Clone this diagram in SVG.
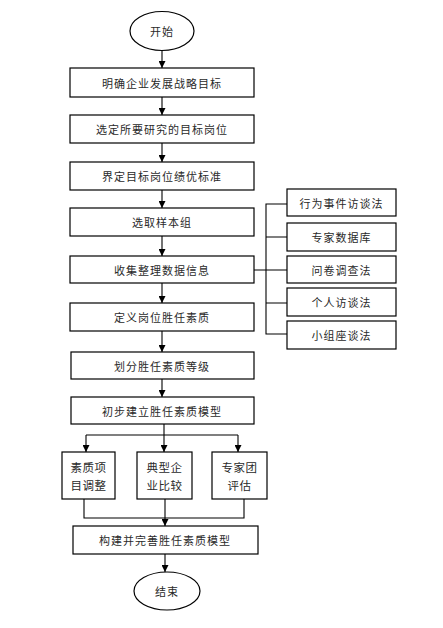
<svg xmlns="http://www.w3.org/2000/svg" width="443" height="628" viewBox="0 0 443 628">
<style>
.b{fill:#fff;stroke:#000;stroke-width:1.2}
.t{font-family:"Noto Sans CJK SC","Noto Sans",sans-serif;font-size:11px;fill:#2a2a2a;text-anchor:middle;dominant-baseline:central;letter-spacing:1px}
.s{font-size:11.5px;letter-spacing:0.5px}
.c{fill:none;stroke:#000;stroke-width:1.1}
</style>
<defs>
<marker id="a" viewBox="0 0 8 8" refX="8" refY="4" markerWidth="7" markerHeight="7" markerUnits="userSpaceOnUse" orient="auto">
<path d="M0,0L8,4L0,8z" fill="#000"/>
</marker>
</defs>
<rect width="443" height="628" fill="#fff"/>
<g id="connectors">
<path class="c" d="M162,51V68" marker-end="url(#a)"/>
<path class="c" d="M162,97V115" marker-end="url(#a)"/>
<path class="c" d="M162,143V162" marker-end="url(#a)"/>
<path class="c" d="M162,190V208" marker-end="url(#a)"/>
<path class="c" d="M162,236V256" marker-end="url(#a)"/>
<path class="c" d="M162,283V303" marker-end="url(#a)"/>
<path class="c" d="M162,331V352" marker-end="url(#a)"/>
<path class="c" d="M162,379V397" marker-end="url(#a)"/>
<path class="c" d="M254,270H287"/>
<path class="c" d="M287,204H266V334H287M266,237H287M266,303H287"/>
<path class="c" d="M164,424V435M86,435H238"/>
<path class="c" d="M86,435V452" marker-end="url(#a)"/>
<path class="c" d="M164,435V452" marker-end="url(#a)"/>
<path class="c" d="M238,435V452" marker-end="url(#a)"/>
<path class="c" d="M84,499V518H244V499"/>
<path class="c" d="M165,499V526" marker-end="url(#a)"/>
<path class="c" d="M165,554V572" marker-end="url(#a)"/>
</g>
<g id="start"><ellipse class="b" cx="162" cy="31" rx="32" ry="19.5"/><text class="t" x="162" y="31">开始</text></g>
<g id="n1"><rect class="b" x="70" y="68" width="184" height="29"/><text class="t" x="162" y="82.5">明确企业发展战略目标</text></g>
<g id="n2"><rect class="b" x="70" y="115" width="184" height="28"/><text class="t" x="162" y="129">选定所要研究的目标岗位</text></g>
<g id="n3"><rect class="b" x="70" y="162" width="184" height="28"/><text class="t" x="162" y="176">界定目标岗位绩优标准</text></g>
<g id="n4"><rect class="b" x="70" y="208" width="184" height="28"/><text class="t" x="162" y="222">选取样本组</text></g>
<g id="n5"><rect class="b" x="70" y="256" width="184" height="27"/><text class="t" x="162" y="269.5">收集整理数据信息</text></g>
<g id="n6"><rect class="b" x="70" y="303" width="184" height="28"/><text class="t" x="162" y="317">定义岗位胜任素质</text></g>
<g id="n7"><rect class="b" x="71" y="352" width="183" height="27"/><text class="t" x="162" y="365.5">划分胜任素质等级</text></g>
<g id="n8"><rect class="b" x="71" y="397" width="183" height="27"/><text class="t" x="162" y="410.5">初步建立胜任素质模型</text></g>
<g id="r1"><rect class="b" x="287" y="189" width="109" height="27"/><text class="t" x="341.5" y="202.5">行为事件访谈法</text></g>
<g id="r2"><rect class="b" x="287" y="223" width="109" height="28"/><text class="t" x="341.5" y="237">专家数据库</text></g>
<g id="r3"><rect class="b" x="287" y="256" width="109" height="27"/><text class="t" x="341.5" y="269.5">问卷调查法</text></g>
<g id="r4"><rect class="b" x="287" y="288" width="109" height="28"/><text class="t" x="341.5" y="302">个人访谈法</text></g>
<g id="r5"><rect class="b" x="287" y="321" width="109" height="28"/><text class="t" x="341.5" y="335">小组座谈法</text></g>
<g id="bA"><rect class="b" x="62" y="452" width="53" height="47"/><text class="t s" x="88.5" y="467">素质项</text><text class="t s" x="88.5" y="485">目调整</text></g>
<g id="bB"><rect class="b" x="137" y="452" width="55" height="47"/><text class="t s" x="164.5" y="467">典型企</text><text class="t s" x="164.5" y="485">业比较</text></g>
<g id="bC"><rect class="b" x="212" y="452" width="55" height="47"/><text class="t s" x="239.5" y="467">专家团</text><text class="t s" x="239.5" y="485">评估</text></g>
<g id="n9"><rect class="b" x="73" y="526" width="185" height="28"/><text class="t" x="165" y="540">构建并完善胜任素质模型</text></g>
<g id="end"><ellipse class="b" cx="167" cy="591" rx="33" ry="19"/><text class="t" x="167" y="591">结束</text></g>
</svg>
